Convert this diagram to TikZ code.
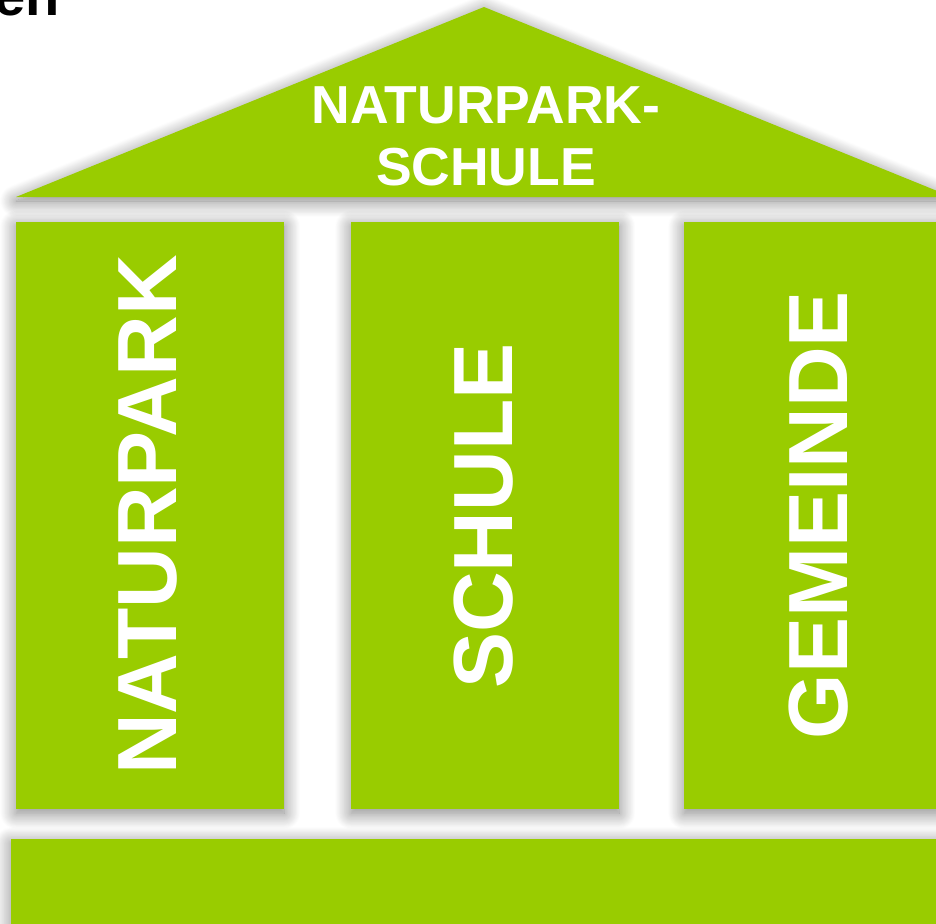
\documentclass[tikz,border=0pt]{standalone}
\usepackage{fontspec}
\setmainfont{Liberation Sans}
\usetikzlibrary{shadows.blur}
\definecolor{pgreen}{HTML}{99CC00}
\begin{document}
\begin{tikzpicture}[x=1pt,y=-1pt,
  part/.style={fill=pgreen, draw=none,
    blur shadow={shadow xshift=0pt,shadow yshift=-4pt,shadow blur radius=16pt,shadow opacity=50,shadow blur steps=20}},
  colbox/.style={part, inner sep=0pt, anchor=north west, minimum width=268pt, minimum height=587pt},
  coltext/.style={rotate=90, text=white, inner sep=0pt, font=\fontsize{84}{84}\selectfont\bfseries},
  rooftext/.style={anchor=base, text=white, inner sep=0pt, font=\fontsize{53.5}{53.5}\selectfont\bfseries}]
\useasboundingbox (0,0) rectangle (936,923);
\clip (0,0) rectangle (936,923);
% title fragment
\node[anchor=base west, inner sep=0pt, font=\fontsize{56}{56}\selectfont\bfseries] (title) at (-6,16) {en};
% roof
\fill[part] (16,197) -- (484,7) -- (952,197) -- cycle;
\node[rooftext] (roofA) at (486,124) {NATURPARK-};
\node[rooftext] (roofB) at (486,185) {SCHULE};
% columns
\node[colbox] (colA) at (16,222) {};
\node[colbox] (colB) at (351,222) {};
\node[colbox] (colC) at (684,222) {};
\node[coltext] (txtA) at (148,515) {NATURPARK};
\node[coltext] (txtB) at (484,516) {SCHULE};
\node[coltext] (txtC) at (819,515) {GEMEINDE};
% base
\node[part, inner sep=0pt, anchor=north west, minimum width=960pt, minimum height=120pt] (base) at (11,839) {};
\end{tikzpicture}
\end{document}
